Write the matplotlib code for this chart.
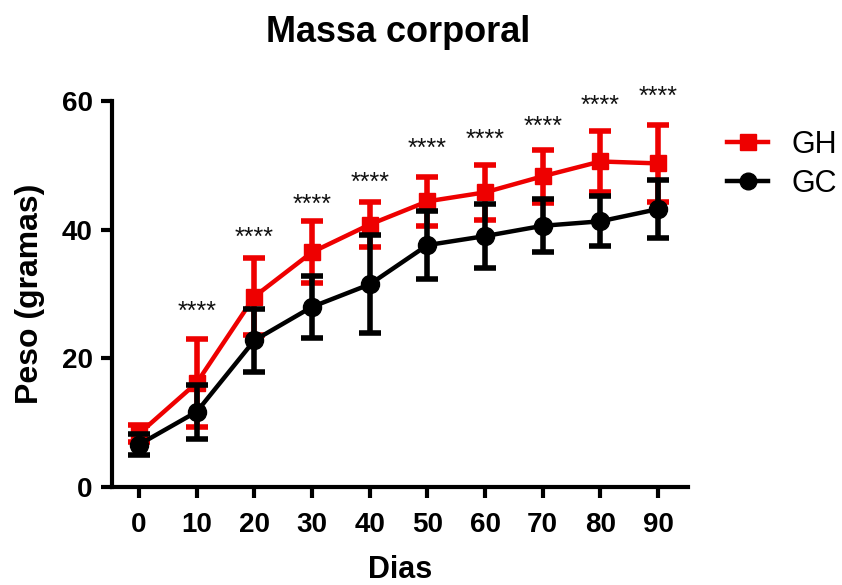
import matplotlib
matplotlib.use("Agg")
import matplotlib.pyplot as plt
from matplotlib.lines import Line2D

dias = [0, 10, 20, 30, 40, 50, 60, 70, 80, 90]

gh_mean = [8.3, 16.2, 29.6, 36.5, 40.8, 44.4, 45.8, 48.3, 50.6, 50.3]
gh_sd = [1.3, 6.8, 6.0, 4.8, 3.5, 3.8, 4.3, 4.1, 4.8, 6.0]

gc_mean = [6.6, 11.7, 22.8, 28.0, 31.5, 37.6, 39.0, 40.6, 41.3, 43.2]
gc_sd = [1.6, 4.2, 4.9, 4.8, 7.6, 5.3, 5.0, 4.1, 3.9, 4.5]

star_dias = [10, 20, 30, 40, 50, 60, 70, 80, 90]
star_y = [27.3, 38.8, 43.8, 47.2, 52.5, 53.9, 56.0, 59.2, 60.6]

RED = "#ee0000"

plt.rcParams["font.family"] = ["Arial", "Liberation Sans", "DejaVu Sans"]

fig = plt.figure(figsize=(8.42, 5.85), dpi=100)
ax = fig.add_axes([112 / 842, 98 / 585, 576 / 842, 386 / 585])

ax.errorbar(dias, gc_mean, yerr=gc_sd, color="black", marker="o", markersize=13,
            linewidth=3.2, elinewidth=4, capsize=8, capthick=4, zorder=3)
ax.errorbar(dias, gh_mean, yerr=gh_sd, color=RED, marker="s", markersize=12,
            linewidth=3.2, elinewidth=4, capsize=8, capthick=4, zorder=2)

for x, y in zip(star_dias, star_y):
    ax.text(x, y, "****", ha="center", va="center", fontsize=18, color="#111111")

ax.set_xlim(-4.7, 95.2)
ax.set_ylim(0, 60)
ax.set_xticks(dias)
ax.set_yticks([0, 20, 40, 60])
ax.tick_params(axis="both", direction="out", length=8, width=3, labelsize=20)
ax.tick_params(axis="x", pad=10)
ax.tick_params(axis="y", pad=6)
for lab in ax.get_xticklabels() + ax.get_yticklabels():
    lab.set_fontweight("bold")

for side in ["top", "right"]:
    ax.spines[side].set_visible(False)
for side in ["left", "bottom"]:
    ax.spines[side].set_linewidth(3)

ax.set_xlabel("Dias", fontsize=22, fontweight="bold", labelpad=12)
ax.set_ylabel("Peso (gramas)", fontsize=23, fontweight="bold", labelpad=12)
fig.suptitle("Massa corporal", fontsize=26, fontweight="bold", x=398 / 842, y=0.975)

handles = [
    Line2D([], [], color=RED, marker="s", markersize=12, linewidth=3.2),
    Line2D([], [], color="black", marker="o", markersize=12, linewidth=3.2),
]
fig.legend(handles, ["GH", "GC"], loc="upper left",
           bbox_to_anchor=(727 / 842, 1 - 130 / 585),
           frameon=False, fontsize=22, handlelength=1.35, labelspacing=0.3,
           handletextpad=0.75, borderpad=0, borderaxespad=0)

fig.savefig("out.png", dpi=100)
